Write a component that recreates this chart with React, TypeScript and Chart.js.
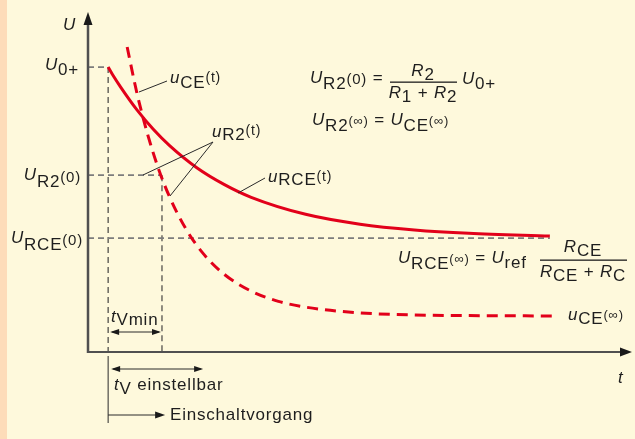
import { useEffect, useRef } from 'react';
import { Chart, registerables } from 'chart.js';

Chart.register(...registerables);

// ---- data (t in arbitrary time units 0..100, U in arbitrary voltage units 0..100)
const tStart = 3.7;      // switch-on instant
const tVmin = 13.6;      // end of minimum delay time
const tEnd = 84.9;       // end of drawn curves
const levelU0 = 83.8;    // U0+
const levelUR20 = 52;    // UR2(0)
const levelURCE0 = 33.5; // URCE(0)

const uRceTime = [3.7, 4.5, 6, 9, 12, 15, 20, 25, 30, 40, 50, 60, 70, 84.9];
const uRceValue = [83.8, 81.6, 77.9, 71.2, 65.5, 60.7, 54.2, 49.3, 45.5, 40.5, 37.6, 35.9, 34.9, 34.1];

const uCeTime = [7.2, 9, 11, 13, 15, 18, 21, 25, 30, 35, 40, 50, 60, 70, 85.5];
const uCeValue = [89.7, 76.1, 63.8, 53.7, 45.6, 36.2, 29.3, 22.9, 17.9, 14.9, 13.2, 11.5, 10.9, 10.7, 10.6];

const RED = '#e2001a';
const CREAM = '#fef9dc';
const PEACH = '#fddcb9';
const INK = '#1e1e1e';
const GUIDE = '#7c7c7c';

type Seg = [string, number, boolean, number];

function font(size: number, italic: boolean) {
  return `${italic ? 'italic ' : ''}${size}px "Liberation Sans", Arial, Helvetica, sans-serif`;
}

function rich(ctx: CanvasRenderingContext2D, x: number, y: number, segs: Seg[], align: 'left' | 'right' | 'center' = 'left') {
  let w = 0;
  for (const [t, s, it] of segs) {
    ctx.font = font(s, it);
    w += ctx.measureText(t).width;
  }
  let cx = align === 'left' ? x : align === 'right' ? x - w : x - w / 2;
  for (const [t, s, it, dy] of segs) {
    ctx.font = font(s, it);
    ctx.fillText(t, cx, y + dy);
    cx += ctx.measureText(t).width;
  }
}

function arrowHead(ctx: CanvasRenderingContext2D, tx: number, ty: number, dx: number, dy: number, len: number, half: number) {
  const px = -dy, py = dx;
  ctx.beginPath();
  ctx.moveTo(tx, ty);
  ctx.lineTo(tx - dx * len + px * half, ty - dy * len + py * half);
  ctx.lineTo(tx - dx * len - px * half, ty - dy * len - py * half);
  ctx.closePath();
  ctx.fill();
}

function line(ctx: CanvasRenderingContext2D, x1: number, y1: number, x2: number, y2: number) {
  ctx.beginPath();
  ctx.moveTo(x1, y1);
  ctx.lineTo(x2, y2);
  ctx.stroke();
}

function doubleArrow(ctx: CanvasRenderingContext2D, x1: number, x2: number, y: number) {
  ctx.lineWidth = 1;
  line(ctx, x1 + 2, y, x2 - 2, y);
  arrowHead(ctx, x1, y, -1, 0, 9, 3);
  arrowHead(ctx, x2, y, 1, 0, 9, 3);
}

const backgroundPlugin = {
  id: 'bg',
  beforeDraw(chart: any) {
    const { ctx, width, height } = chart;
    ctx.save();
    ctx.fillStyle = CREAM;
    ctx.fillRect(0, 0, width, height);
    ctx.fillStyle = PEACH;
    ctx.fillRect(0, 0, 7, height);
    ctx.restore();
  },
};

const annotationPlugin = {
  id: 'annot',
  afterDatasetsDraw(chart: any) {
    const ctx: CanvasRenderingContext2D = chart.ctx;
    const xs = chart.scales.x;
    const ys = chart.scales.y;
    const ox = xs.getPixelForValue(0);
    const oy = ys.getPixelForValue(0);
    const top = chart.chartArea.top;
    const right = chart.chartArea.right;
    const xStart = xs.getPixelForValue(tStart);
    const xVmin = xs.getPixelForValue(tVmin);

    ctx.save();
    (ctx as any).letterSpacing = '0.8px';

    // axes
    ctx.strokeStyle = '#505050';
    ctx.fillStyle = '#1a1a1a';
    ctx.lineWidth = 2.5;
    line(ctx, ox, oy + 1, ox, top + 10);
    arrowHead(ctx, ox, top, 0, -1, 13, 4.5);
    ctx.lineWidth = 2;
    line(ctx, ox, oy, right - 10, oy);
    arrowHead(ctx, right, oy, 1, 0, 12, 4.5);

    // lines below the axis
    ctx.strokeStyle = '#2a2a2a';
    ctx.fillStyle = '#1a1a1a';
    ctx.lineWidth = 1;
    line(ctx, xStart, oy + 4, xStart, oy + 71);
    line(ctx, xStart, oy + 63, xStart + 48, oy + 63);
    arrowHead(ctx, xStart + 57, oy + 63, 1, 0, 10, 3.5);
    doubleArrow(ctx, xStart + 2, xVmin - 1, oy - 20);
    doubleArrow(ctx, xStart + 3, xStart + 95, oy + 17);

    // pointer lines
    ctx.lineWidth = 1;
    line(ctx, 139, 92, 167, 81);
    line(ctx, 213, 142, 143, 175);
    line(ctx, 213, 142, 170, 196);
    line(ctx, 238, 193, 265, 178);

    // texts
    ctx.fillStyle = INK;
    ctx.textBaseline = 'alphabetic';
    ctx.textAlign = 'left';
    rich(ctx, 63, 30, [['U', 17, true, 0]]);
    rich(ctx, 618, 383, [['t', 17, true, 0]]);

    rich(ctx, 79, 70, [['U', 17, true, 0], ['0+', 17, false, 5]], 'right');
    rich(ctx, 81, 180, [['U', 17, true, 0], ['R2', 17, false, 7], ['(0)', 15, false, 2]], 'right');
    rich(ctx, 83, 243, [['U', 17, true, 0], ['RCE', 17, false, 7], ['(0)', 15, false, 2]], 'right');

    rich(ctx, 170, 83, [['u', 17, true, 0], ['CE', 17, false, 5], ['(t)', 14, false, -1]]);
    rich(ctx, 212, 137, [['u', 17, true, 0], ['R2', 17, false, 3], ['(t)', 14, false, -2]]);
    rich(ctx, 268, 182, [['u', 17, true, 0], ['RCE', 17, false, 3], ['(t)', 14, false, -1]]);

    // formula 1
    rich(ctx, 310, 83, [['U', 17, true, 0], ['R2', 17, false, 6], ['(0)', 15, false, 1], [' =', 17, false, 0]]);
    rich(ctx, 423, 76, [['R', 17, true, 0], ['2', 17, false, 4]], 'center');
    ctx.fillRect(390, 81.5, 67, 1.3);
    rich(ctx, 423, 98, [['R', 17, true, 0], ['1', 17, false, 4], [' + ', 17, false, 0], ['R', 17, true, 0], ['2', 17, false, 4]], 'center');
    rich(ctx, 462, 84, [['U', 17, true, 0], ['0+', 17, false, 5]]);

    // formula 2
    rich(ctx, 312, 125, [['U', 17, true, 0], ['R2', 17, false, 6], ['(∞)', 13, false, 0], [' = ', 17, false, 0], ['U', 17, true, 0], ['CE', 17, false, 6], ['(∞)', 13, false, 0]]);

    // formula 3
    rich(ctx, 398, 263, [['U', 17, true, 0], ['RCE', 17, false, 6], ['(∞)', 13, false, 0], [' = ', 17, false, 0], ['U', 17, true, 0], ['ref', 17, false, 5]]);
    rich(ctx, 583, 252, [['R', 17, true, 0], ['CE', 17, false, 4]], 'center');
    ctx.fillRect(540, 259.5, 87, 1.3);
    rich(ctx, 583, 277, [['R', 17, true, 0], ['CE', 17, false, 4], [' + ', 17, false, 0], ['R', 17, true, 0], ['C', 17, false, 4]], 'center');

    rich(ctx, 568, 320, [['u', 17, true, 0], ['CE', 17, false, 4], ['(∞)', 13, false, -1]]);

    rich(ctx, 111, 322, [['t', 17, true, 0], ['Vmin', 17, false, 3]]);
    rich(ctx, 114, 390, [['t', 17, true, 0], ['V', 17, false, 4], [' einstellbar', 17, false, 0]]);
    rich(ctx, 170, 420, [['Einschaltvorgang', 17, false, 0]]);

    ctx.restore();
  },
};

function pts(xs: number[], ys: number[]) {
  return xs.map((x, i) => ({ x, y: ys[i] }));
}

export default function App() {
  const ref = useRef<HTMLCanvasElement | null>(null);
  useEffect(() => {
    if (!ref.current) return;
    const guide = (data: { x: number; y: number }[], color: string, width: number, dash: number[]) => ({
      data,
      borderColor: color,
      borderWidth: width,
      borderDash: dash,
      pointRadius: 0,
      fill: false,
      tension: 0,
    });
    const chart = new Chart(ref.current, {
      type: 'line',
      data: {
        datasets: [
          {
            data: pts(uRceTime, uRceValue),
            borderColor: RED,
            borderWidth: 3,
            pointRadius: 0,
            fill: false,
            cubicInterpolationMode: 'monotone',
          } as any,
          {
            data: pts(uCeTime, uCeValue),
            borderColor: RED,
            borderWidth: 3,
            borderDash: [11, 7],
            pointRadius: 0,
            fill: false,
            cubicInterpolationMode: 'monotone',
          } as any,
          guide([{ x: 0, y: levelU0 }, { x: tStart, y: levelU0 }], GUIDE, 1.8, [6, 4]),
          guide([{ x: 0, y: levelUR20 }, { x: tVmin, y: levelUR20 }], GUIDE, 1.8, [6, 4]),
          guide([{ x: 0, y: levelURCE0 }, { x: tEnd, y: levelURCE0 }], GUIDE, 1.8, [6, 4]),
          guide([{ x: tStart, y: levelU0 }, { x: tStart, y: 0 }], '#333333', 1.1, [6, 4]),
          guide([{ x: tVmin, y: levelUR20 }, { x: tVmin, y: 0 }], '#333333', 1.1, [6, 4]),
        ],
      },
      options: {
        animation: false,
        responsive: false,
        devicePixelRatio: 1,
        layout: { padding: { left: 88, right: 3, top: 12, bottom: 87 } },
        scales: {
          x: { type: 'linear', min: 0, max: 100, display: false },
          y: { type: 'linear', min: 0, max: 100, display: false },
        },
        plugins: { legend: { display: false }, tooltip: { enabled: false } },
        elements: { line: { capBezierPoints: true } },
      } as any,
      plugins: [backgroundPlugin, annotationPlugin],
    });
    return () => chart.destroy();
  }, []);
  return (
    <div style={{ position: 'absolute', left: 0, top: 0, width: 635, height: 439 }}>
      <canvas ref={ref} width={635} height={439} style={{ display: 'block' }} />
    </div>
  );
}
